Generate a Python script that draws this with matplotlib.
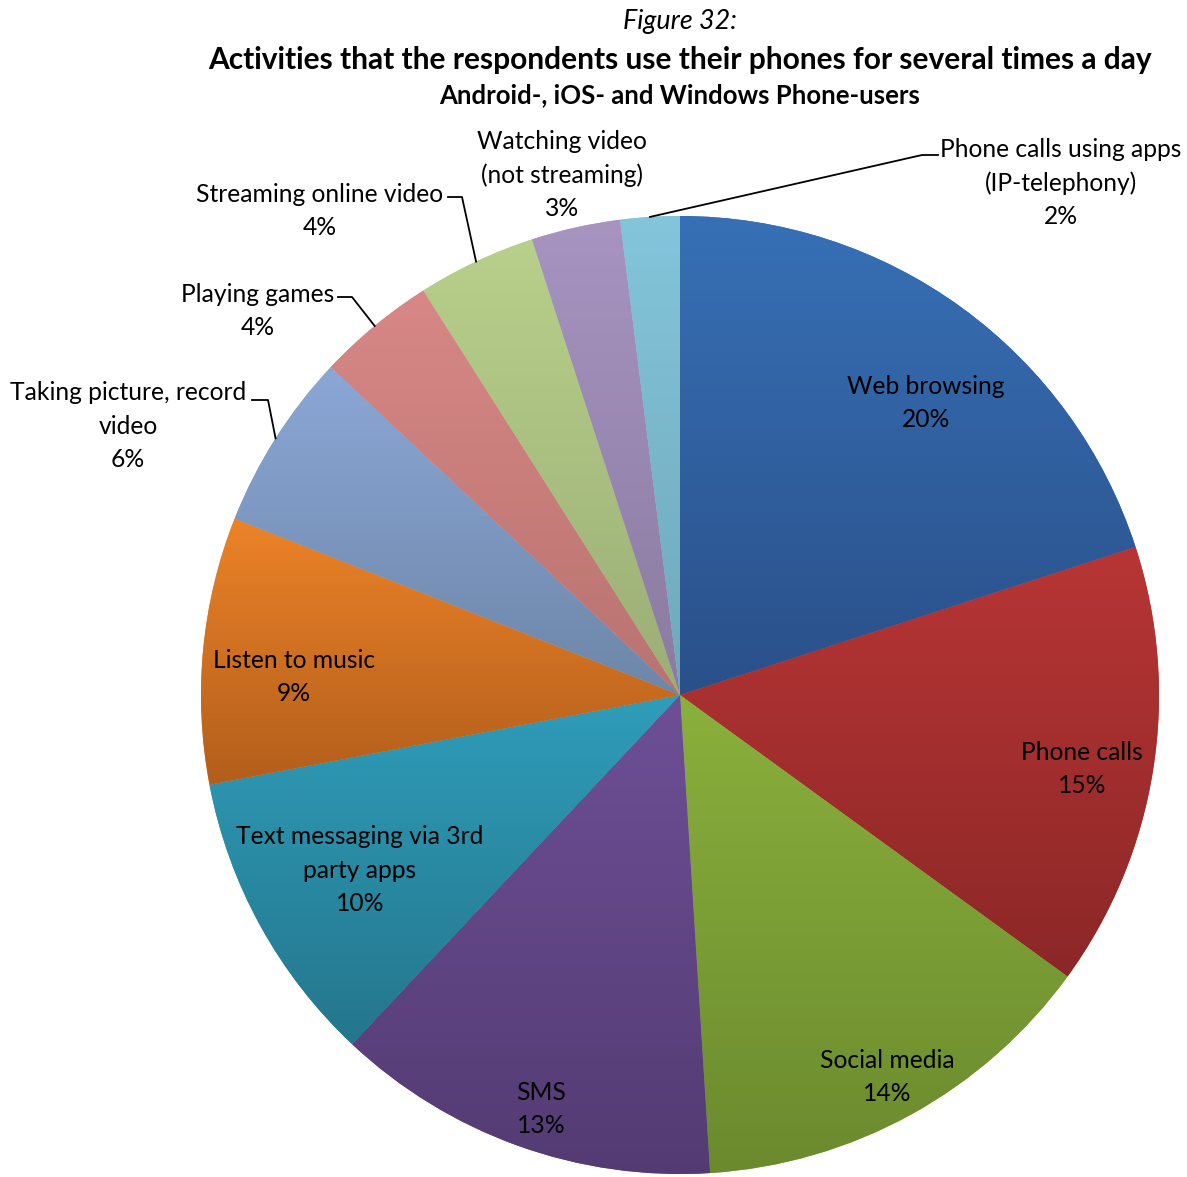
import numpy as np
import matplotlib
matplotlib.use("Agg")
import matplotlib.pyplot as plt
from matplotlib.colors import LinearSegmentedColormap

plt.rcParams['font.family'] = ['Lato', 'DejaVu Sans']

# data
labels = ["Web browsing", "Phone calls", "Social media", "SMS",
          "Text messaging via 3rd\nparty apps", "Listen to music",
          "Taking picture, record\nvideo", "Playing games",
          "Streaming online video", "Watching video\n(not streaming)",
          "Phone calls using apps\n(IP-telephony)"]
shares = [20, 15, 14, 13, 10, 9, 6, 4, 4, 3, 2]

# gradient colours (top, bottom) for every slice
top_cols = ["#3770B6", "#B83535", "#8AB03C", "#6E4F97", "#2F9DBA", "#EC8328",
            "#8BA7D6", "#D88886", "#B8D08B", "#A794C1", "#84C5DB"]
bot_cols = ["#2A5089", "#8C2727", "#6B8A2E", "#533B72", "#24768C", "#B35E1C",
            "#6D86A8", "#B87370", "#9BAE76", "#8A7BA0", "#6FA8BA"]

# layout (pixel coords, y downwards) for the labels
lab_pos = [(926, 403), (1082, 769), (887, 1077), (541, 1109), (360, 870),
           (294, 677), (128, 426), (258, 311), (320, 211), (562, 175),
           (1061, 183)]
# elbow points of leader lines (None = no leader)
elbow = [None, None, None, None, None, None,
         [(252, 400), (268, 400)], [(338, 297), (352, 297)],
         [(448, 197), (462, 197)], None, [(938, 155), (922, 155)]]

W, H = 1187, 1177
cx, cy, R = 680, H - 695, 479

fig = plt.figure(figsize=(W / 100, H / 100), dpi=100)
ax = fig.add_axes([0, 0, 1, 1])

wedges, _ = ax.pie(shares, center=(cx, cy), radius=R, startangle=90,
                   counterclock=False, colors=top_cols,
                   wedgeprops=dict(linewidth=0))

for i, w in enumerate(wedges):
    v = w.get_path().vertices
    x0, x1 = v[:, 0].min(), v[:, 0].max()
    y0, y1 = v[:, 1].min(), v[:, 1].max()
    cmap = LinearSegmentedColormap.from_list("g%d" % i, [bot_cols[i], top_cols[i]])
    grad = np.linspace(0, 1, 256).reshape(-1, 1)
    im = ax.imshow(grad, cmap=cmap, extent=[x0, x1, y0, y1], origin='lower',
                   aspect='auto', interpolation='bilinear', zorder=2)
    im.set_clip_path(w)

# labels
for i, lab in enumerate(labels):
    x, y = lab_pos[i]
    ax.text(x, H - y, lab + "\n%d%%" % shares[i], ha='center', va='center',
            fontsize=17.7, linespacing=1.55, color='black', zorder=5)
    if elbow[i] is not None:
        theta = np.deg2rad(90 - 360 * (sum(shares[:i]) + shares[i] / 2) / 100)
        px, py = cx + R * np.cos(theta), cy + R * np.sin(theta)
        (ex0, ey0), (ex1, ey1) = elbow[i]
        ax.plot([ex0, ex1, px], [H - ey0, H - ey1, py], color='black',
                lw=1.3, zorder=4)

ax.text(680, H - 22, "Figure 32:", ha='center', va='center',
        fontsize=19.4, style='italic')
ax.text(680, H - 60, "Activities that the respondents use their phones for several times a day",
        ha='center', va='center', fontsize=21.5, fontweight='bold')
ax.text(680, H - 95, "Android-, iOS- and Windows Phone-users",
        ha='center', va='center', fontsize=18.5, fontweight='bold')

ax.set_xlim(0, W)
ax.set_ylim(0, H)
ax.set_aspect('auto')
ax.axis('off')

fig.savefig("out.png", dpi=100)
